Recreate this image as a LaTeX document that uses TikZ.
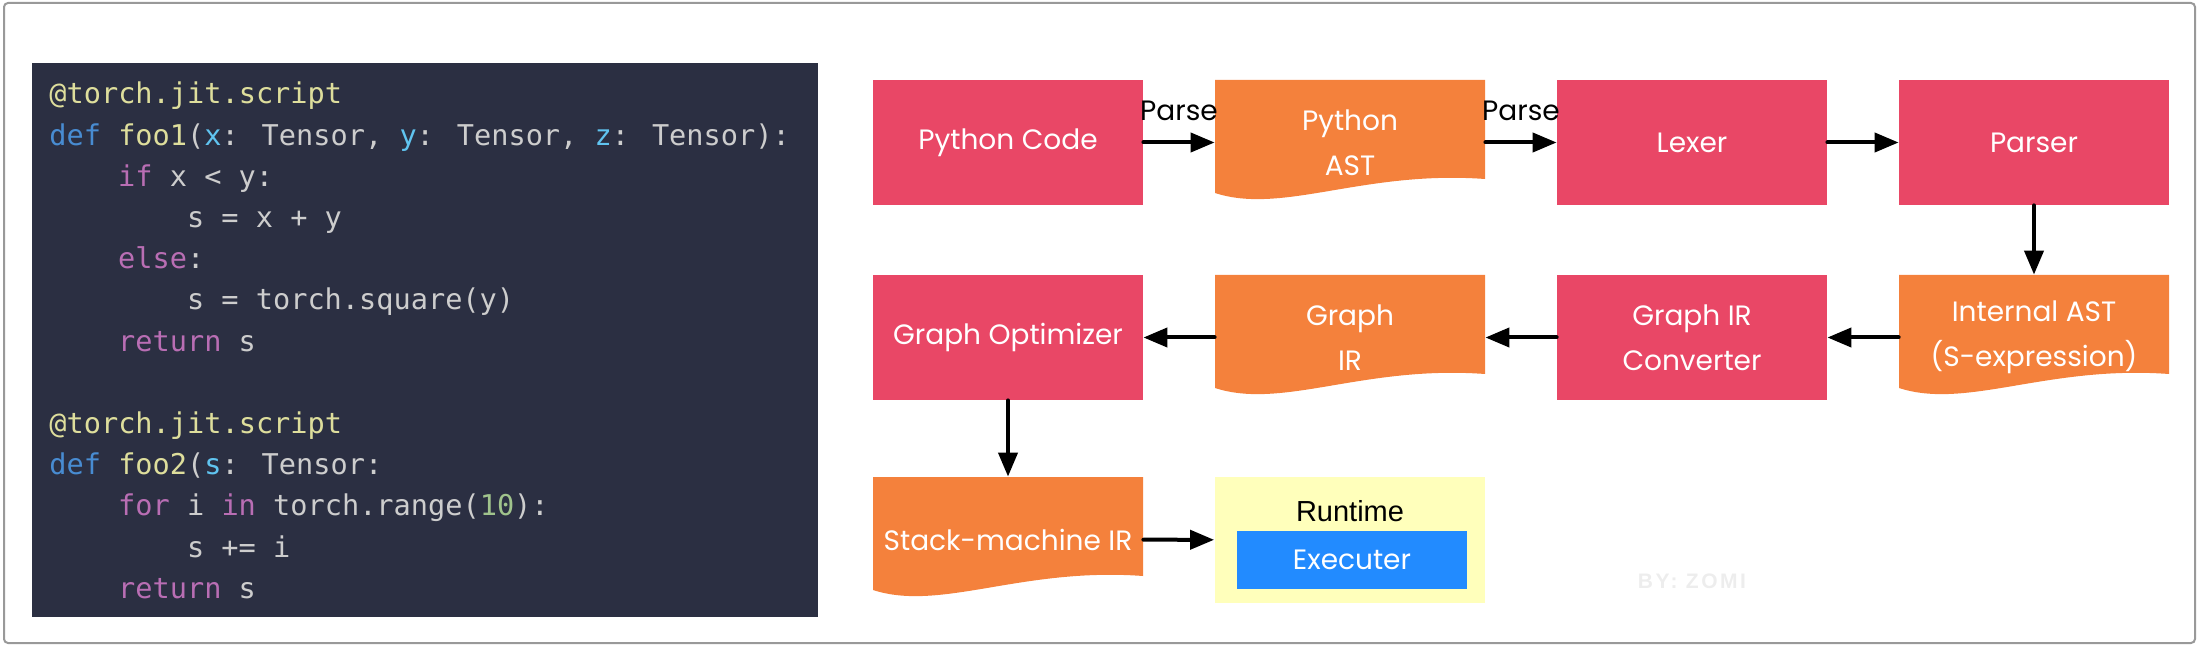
\documentclass[tikz,border=0pt]{standalone}
\usepackage{fontspec}
\usepackage{xcolor}
\usepackage{tikz}
\usetikzlibrary{arrows.meta}

\newfontfamily\labelfont{Poppins}
\newfontfamily\codefont{DejaVu Sans Mono}
\newfontfamily\plainfont{Liberation Sans}
\newfontfamily\markfont[LetterSpace=12]{Liberation Sans}

\definecolor{boxred}{RGB}{233,71,102}
\definecolor{docorange}{RGB}{244,129,60}
\definecolor{rtyellow}{RGB}{255,255,187}
\definecolor{exblue}{RGB}{34,139,255}
\definecolor{panelbg}{RGB}{43,47,66}
\definecolor{codeDeco}{RGB}{222,222,156}
\definecolor{codeKey}{RGB}{72,140,210}
\definecolor{codeParam}{RGB}{96,196,240}
\definecolor{codePlain}{RGB}{205,205,205}
\definecolor{codeFlow}{RGB}{185,110,180}
\definecolor{codeNum}{RGB}{160,195,140}

\newcommand{\deco}[1]{\textcolor{codeDeco}{#1}}
\newcommand{\kwd}[1]{\textcolor{codeKey}{#1}}
\newcommand{\prm}[1]{\textcolor{codeParam}{#1}}
\newcommand{\flw}[1]{\textcolor{codeFlow}{#1}}
\newcommand{\nmb}[1]{\textcolor{codeNum}{#1}}

% document shape, top left corner at #1,#2
\newcommand{\docshape}[2]{%
  \fill[docorange, shift={(#1,#2)}] (0,0) -- (270,0) -- (270,99) .. controls (148.5,90) and (67.5,135) .. (0,113) -- cycle ;}

\begin{document}
\begin{tikzpicture}[x=0.5pt,y=0.5pt,yscale=-1,xscale=1,
  redbox/.style={fill=boxred, minimum width=135pt, minimum height=62.5pt, inner sep=0pt,
    text=white, align=center, font=\labelfont\fontsize{14}{22.5}\selectfont},
  docbox/.style={redbox, fill=none},
  link/.style={line width=2pt, line cap=round, -{Triangle[length=12pt,width=9.5pt]}},
  parse/.style={anchor=south, inner xsep=0pt, inner ysep=10pt, text=black,
    font=\labelfont\fontsize{14}{16}\selectfont},
  codeline/.style={anchor=base west, inner sep=0pt, text=codePlain,
    font=\codefont\fontsize{14.3}{17}\selectfont}]
\useasboundingbox (0,0) rectangle (2200,646);

%Shape: Frame
\draw [color=black!40, line width=1pt, rounded corners=2pt] (4,3) rectangle (2195,643) ;

%Shape: Code panel
\fill [panelbg] (32,63) rectangle (818,617) ;

% Text Node
\node [codeline] (code1) at (49,104) {\deco{@torch.jit.script}};
% Text Node
\node [codeline] (code2) at (49,145.2) {\kwd{def} \deco{foo1}(\prm{x}: Tensor, \prm{y}: Tensor, \prm{z}: Tensor):};
% Text Node
\node [codeline] (code3) at (117.8,186.4) {\flw{if} x < y:};
% Text Node
\node [codeline] (code4) at (186.6,227.6) {s = x + y};
% Text Node
\node [codeline] (code5) at (117.8,268.8) {\flw{else}:};
% Text Node
\node [codeline] (code6) at (186.6,310) {s = torch.square(y)};
% Text Node
\node [codeline] (code7) at (117.8,351.2) {\flw{return} s};
% Text Node
\node [codeline] (code9) at (49,433.6) {\deco{@torch.jit.script}};
% Text Node
\node [codeline] (code10) at (49,474.8) {\kwd{def} \deco{foo2}(\prm{s}: Tensor:};
% Text Node
\node [codeline] (code11) at (117.8,516) {\flw{for} i \flw{in} torch.range(\nmb{10}):};
% Text Node
\node [codeline] (code12) at (186.6,557.2) {s += i};
% Text Node
\node [codeline] (code13) at (117.8,598.4) {\flw{return} s};

%Shape: Document
\docshape{1215}{80}
\docshape{1215}{275}
\docshape{1899}{275}
\docshape{873}{477}

% first row
\node [redbox] (pycode) at (1008,142.5) {Python Code};
\node [docbox] (pyast) at (1350,142.5) {Python\\AST};
\node [redbox] (lexer) at (1692,142.5) {Lexer};
\node [redbox] (parser) at (2034,142.5) {Parser};

% second row
\node [redbox] (optim) at (1008,337.5) {Graph Optimizer};
\node [docbox] (graphir) at (1350,337.5) {Graph\\IR};
\node [redbox] (conv) at (1692,337.5) {Graph IR\\Converter};
\node [docbox] (iast) at (2034,337.5) {Internal AST\\(S-expression)};

% third row
\node [docbox] (stack) at (1008,539.5) {Stack-machine IR};
\node [fill=rtyellow, minimum width=135pt, minimum height=63pt] (runtime) at (1349.5,540) {};
\node [text=black, font=\plainfont\fontsize{14.5}{16}\selectfont] (rtlabel) at (1350,511) {Runtime};
\node [redbox, fill=exblue, minimum width=115pt, minimum height=29pt] (executer) at (1352,560) {Executer};

% Text Node
\node [text=black!7, font=\markfont\bfseries\fontsize{10.5}{12}\selectfont] (byline) at (1692,581) {BY: ZOMI};

%Straight Lines
\draw [link] (pycode) -- node [parse] (parse1) {Parse} (pyast) ;
\draw [link] (pyast) -- node [parse] (parse2) {Parse} (lexer) ;
\draw [link] (lexer) -- (parser) ;
\draw [link] (parser) -- (iast) ;
\draw [link] (iast) -- (conv) ;
\draw [link] (conv) -- (graphir) ;
\draw [link] (graphir) -- (optim) ;
\draw [link] (optim) -- (stack) ;
\draw [link] (stack) -- (runtime) ;

\end{tikzpicture}
\end{document}
